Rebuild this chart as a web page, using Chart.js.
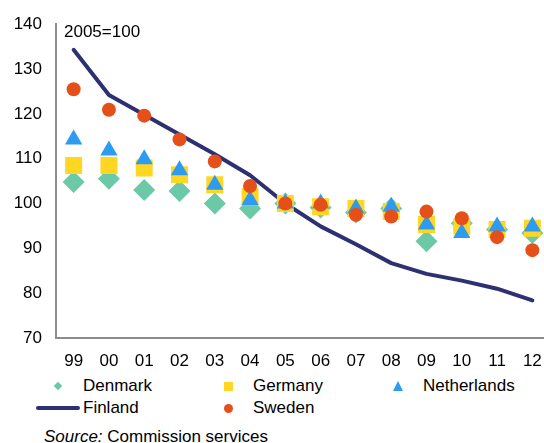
<!DOCTYPE html>
<html>
<head>
<meta charset="utf-8">
<script src="https://cdn.jsdelivr.net/npm/chart.js@4/dist/chart.umd.min.js"></script>
<style>
  html, body { margin: 0; padding: 0; background: #fff; overflow: hidden; width: 544px; height: 443px; }
  body { position: relative; font-family: "Liberation Sans", Arial, sans-serif; color: #000; }
  #grafico { position: absolute; left: 0; top: 0; }
  .nota { position: absolute; left: 64px; top: 22px; font-size: 17px; line-height: 20px; }
  .leg { position: absolute; font-size: 17px; line-height: 20px; white-space: nowrap; }
  .mk { position: absolute; }
  .fonte { position: absolute; left: 44px; top: 427px; font-size: 17px; line-height: 20px; }
</style>
</head>
<body>
<canvas id="grafico" width="562" height="370"></canvas>
<div class="nota">2005=100</div>
<div id="legenda"></div>
<div class="fonte"><i>Source:</i> Commission services</div>
<script>
// Dados (índice 2005=100)
const anos = ["99", "00", "01", "02", "03", "04", "05", "06", "07", "08", "09", "10", "11", "12"];
const denmark = [104.8, 105.5, 103.0, 102.8, 100.0, 98.9, 100.0, 99.1, 98.0, 98.9, 91.6, 95.6, 94.2, 93.4];
const germany = [108.5, 108.5, 107.9, 106.4, 104.2, 101.5, 100.0, 99.3, 98.9, 98.2, 95.3, 94.9, 94.2, 94.5];
const netherlands = [114.3, 111.8, 109.9, 107.4, 104.2, 100.8, 100.0, 100.0, 98.9, 99.3, 95.3, 93.4, 94.9, 94.9];
const finland = [134.3, 124.2, 119.8, 115.4, 111.0, 106.3, 100.0, 94.9, 90.9, 86.7, 84.3, 82.8, 81.0, 78.4];
const sweden = [125.5, 120.9, 119.6, 114.3, 109.4, 103.9, 100.0, 99.7, 97.5, 97.1, 98.2, 96.7, 92.5, 89.6];

// Cores
const cores = {
	Denmark: "#6cc9a8",
	Germany: "#ffd622",
	Netherlands: "#2d9bf0",
	Finland: "#2e3171",
	Sweden: "#e54f1a",
};

Chart.defaults.font.family = '"Liberation Sans", Arial, sans-serif';
Chart.defaults.font.size = 17;
Chart.defaults.color = "#000";

function pontos(label, data, estilo, raio, ordem) {
	return {
		label: label,
		data: data,
		showLine: false,
		pointStyle: estilo,
		pointRadius: raio,
		pointHoverRadius: raio,
		pointBackgroundColor: cores[label],
		pointBorderWidth: 0,
		borderColor: cores[label],
		backgroundColor: cores[label],
		order: ordem,
	};
}

const datasets = [
	pontos("Denmark", denmark, "rectRot", 11, 4),
	pontos("Germany", germany, "rect", 12, 3),
	pontos("Netherlands", netherlands, "triangle", 10, 2),
	{
		label: "Finland",
		data: finland,
		borderColor: cores.Finland,
		borderWidth: 4,
		borderCapStyle: "round",
		borderJoinStyle: "round",
		pointRadius: 0,
		tension: 0,
		fill: false,
		order: 5,
	},
	pontos("Sweden", sweden, "circle", 7, 1),
];

const ctx = document.getElementById("grafico");

new Chart(ctx, {
	type: "line",
	data: { labels: anos, datasets: datasets },
	options: {
		responsive: false,
		animation: false,
		layout: { padding: { top: 18, bottom: 0, left: 0, right: 0 } },
		plugins: {
			legend: { display: false },
			tooltip: { enabled: false },
		},
		scales: {
			x: {
				offset: true,
				grid: { display: false, drawTicks: false },
				border: { display: true, color: "#8c8c8c", width: 2 },
				ticks: { padding: 13, maxRotation: 0, autoSkip: false },
				afterFit: function (scale) { scale.height = 32; },
			},
			y: {
				min: 70,
				max: 140,
				grid: { display: false, drawTicks: false },
				border: { display: true, color: "#8c8c8c", width: 2 },
				ticks: { stepSize: 10, padding: 14 },
				afterFit: function (scale) { scale.width = 56; },
			},
		},
	},
});

// Legenda em HTML (três colunas)
const itensLegenda = [
	{ nome: "Denmark", x: 58, y: 386, forma: "losango" },
	{ nome: "Germany", x: 228, y: 386, forma: "quadrado" },
	{ nome: "Netherlands", x: 398, y: 386, forma: "triangulo" },
	{ nome: "Finland", x: 58, y: 408, forma: "linha" },
	{ nome: "Sweden", x: 228, y: 408, forma: "circulo" },
];

const legenda = document.getElementById("legenda");
itensLegenda.forEach((item) => {
	const cor = cores[item.nome];
	const mk = document.createElement("div");
	mk.className = "mk";
	if (item.forma === "losango") {
		mk.style.cssText = `left:${item.x - 3}px;top:${item.y - 3}px;width:6px;height:6px;background:${cor};transform:rotate(45deg);`;
	} else if (item.forma === "quadrado") {
		mk.style.cssText = `left:${item.x - 4.5}px;top:${item.y - 4.5}px;width:9px;height:9px;background:${cor};`;
	} else if (item.forma === "triangulo") {
		mk.style.cssText = `left:${item.x - 5.5}px;top:${item.y - 5}px;width:0;height:0;border-left:5.5px solid transparent;border-right:5.5px solid transparent;border-bottom:10px solid ${cor};`;
	} else if (item.forma === "circulo") {
		mk.style.cssText = `left:${item.x - 4.5}px;top:${item.y - 4.5}px;width:9px;height:9px;border-radius:50%;background:${cor};`;
	} else {
		mk.style.cssText = `left:36px;top:${item.y - 2}px;width:44px;height:4px;border-radius:2px;background:${cor};`;
	}
	legenda.appendChild(mk);

	const txt = document.createElement("div");
	txt.className = "leg";
	txt.textContent = item.nome;
	txt.style.left = item.x + 25 + "px";
	txt.style.top = item.y - 10 + "px";
	legenda.appendChild(txt);
});
</script>
</body>
</html>
